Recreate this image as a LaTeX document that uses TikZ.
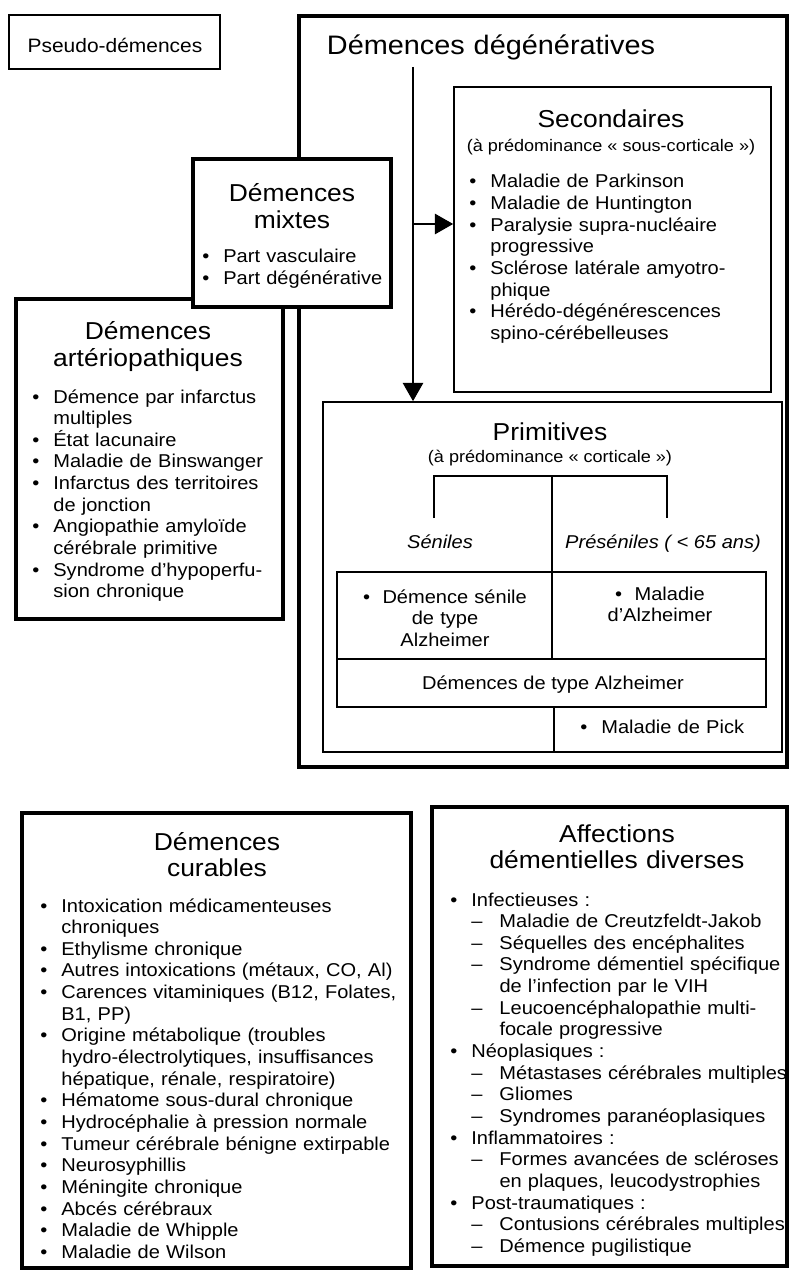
\documentclass[tikz,border=0pt]{standalone}
\usepackage{fontspec}
\setmainfont{Liberation Sans}[FakeStretch=1.08]
\usetikzlibrary{arrows.meta,fit}

\newlength\largpuce
\setlength\largpuce{15pt}
\newcommand{\puce}{\makebox[\largpuce][l]{\textbullet}}
\newcommand{\retrait}{\hspace*{\largpuce}}
\newcommand{\tiret}{\makebox[20pt][l]{\textendash}}
\newcommand{\retraitb}{\hspace*{35pt}}

\begin{document}
\begin{tikzpicture}[x=0.025cm, y=-0.025cm,
    gros/.style={draw, line width=3.5pt, inner sep=0pt},
    fin/.style={draw, line width=1.2pt, inner sep=0pt},
    trait/.style={line width=0.9pt},
    titre/.style={font=\fontsize{17.4}{18.5}\selectfont, text width=12cm, align=center, anchor=base, inner sep=0pt},
    soustitre/.style={font=\fontsize{11.9}{14}\selectfont, anchor=base, inner sep=0pt},
    liste/.style={font=\fontsize{13.2}{15.4}\selectfont, text width=14cm, align=left, anchor=base west, inner sep=0pt},
    texte/.style={font=\fontsize{13.2}{15.4}\selectfont, anchor=base, inner sep=0pt},
    fleche/.style={line width=1.1pt, -{Triangle[length=13pt, width=14.5pt]}}]
    \useasboundingbox (0,0) rectangle (790,1279);
    % frames of the boxes
    \node[fin, fit={(9,15) (220,69)}] (pseudo) {};
    \node[gros, fit={(299,16) (787,767)}] (degen) {};
    \node[gros, fill=white, fit={(16,299) (283,619)}] (arterio) {};
    \node[gros, fill=white, fit={(193,159) (391,307)}] (mixtes) {};
    \node[fin, fit={(454,87) (771,392)}] (second) {};
    \node[fin, fit={(323,402) (782,752)}] (prim) {};
    \node[draw, trait, inner sep=0pt, fit={(337,572) (766,707)}] (tableau) {};
    \node[gros, fit={(22,813) (411,1268)}] (curables) {};
    \node[gros, fit={(432,807) (787,1266)}] (diverses) {};
    % lines inside the primitives box
    \draw[trait] (434,518) -- (434,476) -- (667,476) -- (667,518);
    \draw[trait] (552,476) -- (552,659);
    \draw[trait] (337,659) -- (766,659);
    \draw[trait] (554,707) -- (554,752);
    % arrows from the degenerative title
    \coordinate (depart) at (413,67);
    \coordinate (branche) at (413,224);
    \draw[fleche] (depart) -- (depart |- prim.north);
    \draw[fleche] (branche) -- (branche -| second.west);
    % pseudo-demences
    \node[texte, font=\fontsize{13.8}{16}\selectfont] (tpseudo) at (115,53) {Pseudo-démences};
    % degeneratives
    \node[titre, font=\fontsize{19}{22}\selectfont] (tdegen) at (491,55) {Démences dégénératives};
    % mixtes
    \node[titre] (tmixtes) at (292,202) {Démences\\mixtes};
    \node[liste] (lmixtes) at (202,263) {\puce Part vasculaire\\\puce Part dégénérative};
    % arteriopathiques
    \node[titre] (tarterio) at (148,340) {Démences\\artériopathiques};
    \node[liste] (larterio) at (32,403) {\puce Démence par infarctus\\
        \retrait multiples\\
        \puce État lacunaire\\
        \puce Maladie de Binswanger\\
        \puce Infarctus des territoires\\
        \retrait de jonction\\
        \puce Angiopathie amyloïde\\
        \retrait cérébrale primitive\\
        \puce Syndrome d'hypoperfu-\\
        \retrait sion chronique};
    % secondaires
    \node[titre] (tsecond) at (611,128) {Secondaires};
    \node[soustitre] (ssecond) at (611,152) {(à prédominance «~sous-corticale~»)};
    \node[liste] (lsecond) at (469,188) {\puce Maladie de Parkinson\\
        \puce Maladie de Huntington\\
        \puce Paralysie supra-nucléaire\\
        \retrait progressive\\
        \puce Sclérose latérale amyotro-\\
        \retrait phique\\
        \puce Hérédo-dégénérescences\\
        \retrait spino-cérébelleuses};
    % primitives
    \node[titre] (tprim) at (550,440) {Primitives};
    \node[soustitre] (sprim) at (550,462) {(à prédominance «~corticale~»)};
    \node[texte, font=\fontsize{13.2}{15.4}\selectfont\itshape] (seniles) at (440,548) {Séniles};
    \node[texte, font=\fontsize{13.2}{15.4}\selectfont\itshape] (preseniles) at (663,548) {Préséniles ( < 65 ans)};
    \node[texte, text width=5cm, align=center] (cellg) at (445,603) {\textbullet\ \ Démence sénile\\de type\\Alzheimer};
    \node[texte, text width=5cm, align=center] (celld) at (660,600) {\textbullet\ \ Maladie\\d'Alzheimer};
    \node[texte] (talz) at (553,689) {Démences de type Alzheimer};
    \node[liste] (pick) at (580,733) {\puce Maladie de Pick};
    % curables
    \node[titre] (tcurables) at (217,850) {Démences\\curables};
    \node[liste] (lcurables) at (40,912) {\puce Intoxication médicamenteuses\\
        \retrait chroniques\\
        \puce Ethylisme chronique\\
        \puce Autres intoxications (métaux, CO, Al)\\
        \puce Carences vitaminiques (B12, Folates,\\
        \retrait B1, PP)\\
        \puce Origine métabolique (troubles\\
        \retrait hydro-électrolytiques, insuffisances\\
        \retrait hépatique, rénale, respiratoire)\\
        \puce Hématome sous-dural chronique\\
        \puce Hydrocéphalie à pression normale\\
        \puce Tumeur cérébrale bénigne extirpable\\
        \puce Neurosyphillis\\
        \puce Méningite chronique\\
        \puce Abcés cérébraux\\
        \puce Maladie de Whipple\\
        \puce Maladie de Wilson};
    % affections diverses
    \node[titre] (tdiverses) at (617,842) {Affections\\démentielles diverses};
    \node[liste] (ldiverses) at (450,906) {\puce Infectieuses~:\\
        \retrait\tiret Maladie de Creutzfeldt-Jakob\\
        \retrait\tiret Séquelles des encéphalites\\
        \retrait\tiret Syndrome démentiel spécifique\\
        \retraitb de l'infection par le VIH\\
        \retrait\tiret Leucoencéphalopathie multi-\\
        \retraitb focale progressive\\
        \puce Néoplasiques~:\\
        \retrait\tiret Métastases cérébrales multiples\\
        \retrait\tiret Gliomes\\
        \retrait\tiret Syndromes paranéoplasiques\\
        \puce Inflammatoires~:\\
        \retrait\tiret Formes avancées de scléroses\\
        \retraitb en plaques, leucodystrophies\\
        \puce Post-traumatiques~:\\
        \retrait\tiret Contusions cérébrales multiples\\
        \retrait\tiret Démence pugilistique};
\end{tikzpicture}
\end{document}
